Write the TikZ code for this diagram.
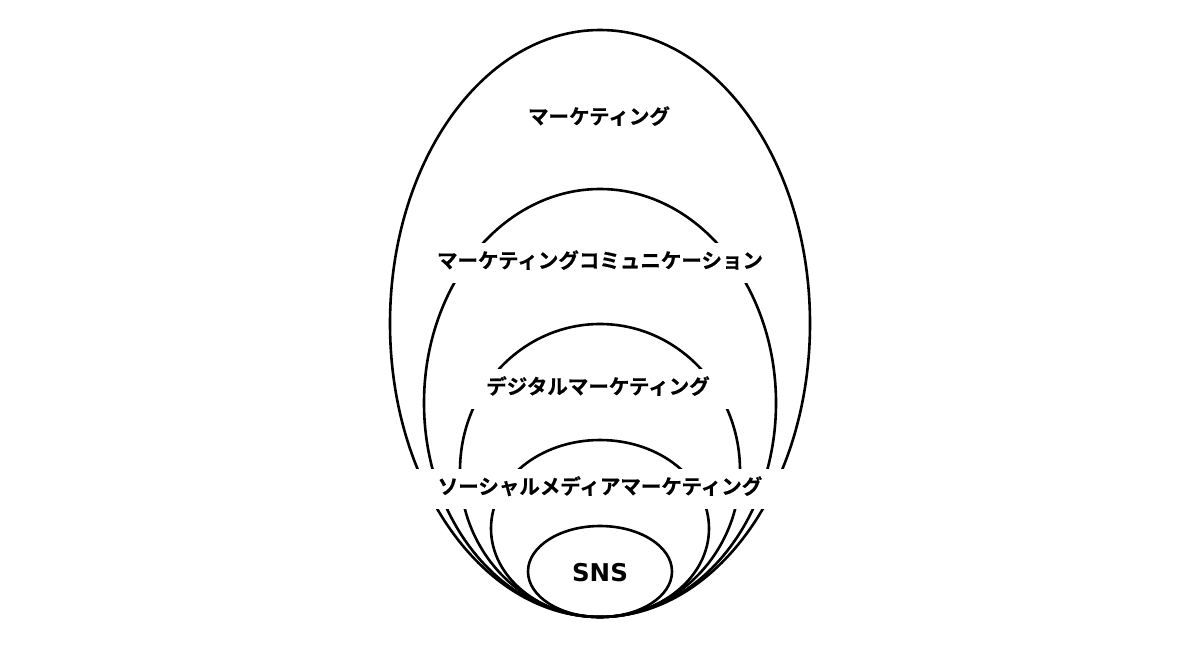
\documentclass[tikz,border=0pt]{standalone}
\usepackage{fontspec}
\newfontfamily\jpfont[BoldFont={Noto Sans CJK JP Bold}, BoldFeatures={FakeBold=0.6}]{Noto Sans CJK JP}
\newfontfamily\snsfont{DejaVu Sans}
\usetikzlibrary{shapes.geometric}

\begin{document}
\begin{tikzpicture}[
    x=1pt, y=-1pt,
      ring/.style = {draw, ellipse, line width=2.6pt, inner sep=0pt},
  ringtext/.style = {fill=white, inner xsep=22pt, inner ysep=10pt,
                     text height=15pt, text depth=5pt,
                     font=\jpfont\bfseries\fontsize{20.5pt}{24pt}\selectfont}
                    ]
  \useasboundingbox (0,0) rectangle (1200,648);
  % nested rings, all touching at the bottom
  \node [ring, minimum width=420pt, minimum height=587pt] (mkt)    at (600,323.5) {};
  \node [ring, minimum width=352pt, minimum height=428pt] (mktcom) at (600,403)   {};
  \node [ring, minimum width=280pt, minimum height=293pt] (digi)   at (600,470.5) {};
  \node [ring, minimum width=218pt, minimum height=177pt] (social) at (600,528.5) {};
  \node [ring, minimum width=144pt, minimum height=91pt]  (sns)    at (600,571.5) {};
  %
  \node [ringtext] (mkttext)    at (599,119) {マーケティング};
  \node [ringtext] (mktcomtext) at (600,263) {マーケティングコミュニケーション};
  \node [ringtext] (digitext)   at (598,389) {デジタルマーケティング};
  \node [ringtext] (socialtext) at (600,489) {ソーシャルメディアマーケティング};
  \node [font=\snsfont\bfseries\fontsize{24.5pt}{28pt}\selectfont] (snstext) at (600,573) {SNS};
\end{tikzpicture}
\end{document}
